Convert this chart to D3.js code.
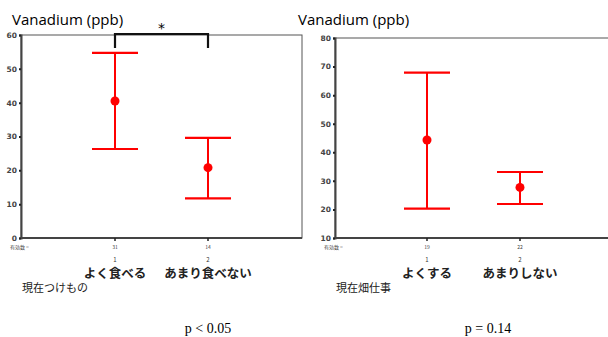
<!DOCTYPE html>
<html>
<head>
<meta charset="utf-8">
<title>Vanadium</title>
<script src="https://d3js.org/d3.v7.min.js"></script>
<style>
body { margin: 0; background: #fff; }
text { font-family: "Noto Sans CJK JP", "Noto Sans", sans-serif; }
</style>
</head>
<body>
<div id="chart"></div>
<script>
// left panel: pickled vegetables
var leftGroups = ["よく食べる", "あまり食べない"]
var leftCodes = ["1", "2"]
var leftN = ["31", "14"]
var leftMean = [40.5, 20.8]
var leftLow = [26.3, 11.7]
var leftHigh = [54.7, 29.6]
var leftTicks = [0, 10, 20, 30, 40, 50, 60]

// right panel: field work
var rightGroups = ["よくする", "あまりしない"]
var rightCodes = ["1", "2"]
var rightN = ["19", "22"]
var rightMean = [44.3, 27.7]
var rightLow = [20.3, 21.9]
var rightHigh = [67.9, 33.1]
var rightTicks = [10, 20, 30, 40, 50, 60, 70, 80]

var svg = d3.select("#chart").append("svg")
  .attr("width", 608)
  .attr("height", 337)

function panel(opt) {
  var g = svg.append("g")
  var y = d3.scaleLinear().domain(opt.domain).range([238, opt.top])
  var x = d3.scalePoint().domain(opt.codes).range([opt.x1, opt.x2])

  // title
  g.append("text")
    .attr("x", opt.titleX).attr("y", 25)
    .style("font-family", "'Open Sans', sans-serif")
    .style("font-size", "15px")
    .text("Vanadium (ppb)")

  // frame
  g.append("rect")
    .attr("x", opt.left).attr("y", opt.top)
    .attr("width", opt.right - opt.left).attr("height", 238 - opt.top)
    .attr("fill", "none").attr("stroke", "#555").attr("stroke-width", 1)

  var ax = g.append("g").attr("transform", "translate(" + opt.left + ",0)")
    .call(d3.axisLeft(y).tickValues(opt.ticks).tickSize(2).tickPadding(2))
  ax.select(".domain").attr("stroke", "#444").attr("stroke-width", 2)
  ax.selectAll("line").attr("stroke", "#222").attr("stroke-width", 2)
  ax.selectAll("text").style("font-size", "7.5px").style("font-weight", "bold")
    .style("font-family", "'DejaVu Sans', sans-serif").attr("fill", "#444")

  g.append("line")
    .attr("x1", opt.left).attr("x2", opt.right).attr("y1", 238).attr("y2", 238)
    .attr("stroke", "#444").attr("stroke-width", 2)

  // x ticks
  g.selectAll(".xt").data(opt.codes).enter().append("line")
    .attr("x1", function(d){ return x(d) }).attr("x2", function(d){ return x(d) })
    .attr("y1", 238).attr("y2", 241).attr("stroke", "#222").attr("stroke-width", 1.5)

  g.append("text").attr("x", opt.nX).attr("y", 249)
    .style("font-size", "5px").attr("fill", "#444").text("有効数 =")
  g.selectAll(".n").data(opt.n).enter().append("text")
    .attr("x", function(d, i){ return x(opt.codes[i]) }).attr("y", 249)
    .attr("text-anchor", "middle").style("font-size", "5px").attr("fill", "#444")
    .text(function(d){ return d })
  g.selectAll(".code").data(opt.codes).enter().append("text")
    .attr("x", function(d){ return x(d) }).attr("y", 262)
    .attr("text-anchor", "middle").style("font-size", "6px").attr("fill", "#333")
    .text(function(d){ return d })
  g.selectAll(".grp").data(opt.groups).enter().append("text")
    .attr("x", function(d, i){ return x(opt.codes[i]) }).attr("y", 278)
    .attr("text-anchor", "middle").style("font-size", "12.5px").style("font-weight", "bold")
    .attr("fill", "#222")
    .text(function(d){ return d })
  g.append("text").attr("x", opt.varX).attr("y", 292)
    .style("font-size", "11px").attr("fill", "#222").text(opt.varName)

  // error bars
  var bars = g.selectAll(".bar").data(opt.codes).enter().append("g")
  bars.append("line")
    .attr("x1", function(d){ return x(d) }).attr("x2", function(d){ return x(d) })
    .attr("y1", function(d, i){ return y(opt.low[i]) }).attr("y2", function(d, i){ return y(opt.high[i]) })
    .attr("stroke", "red").attr("stroke-width", 2)
  bars.append("line")
    .attr("x1", function(d){ return x(d) - 23 }).attr("x2", function(d){ return x(d) + 23 })
    .attr("y1", function(d, i){ return y(opt.low[i]) }).attr("y2", function(d, i){ return y(opt.low[i]) })
    .attr("stroke", "red").attr("stroke-width", 2.2)
  bars.append("line")
    .attr("x1", function(d){ return x(d) - 23 }).attr("x2", function(d){ return x(d) + 23 })
    .attr("y1", function(d, i){ return y(opt.high[i]) }).attr("y2", function(d, i){ return y(opt.high[i]) })
    .attr("stroke", "red").attr("stroke-width", 2.2)
  bars.append("circle")
    .attr("cx", function(d){ return x(d) }).attr("cy", function(d, i){ return y(opt.mean[i]) })
    .attr("r", 4.5).attr("fill", "red")

  g.append("text").attr("x", opt.pX).attr("y", 333)
    .attr("text-anchor", "middle")
    .style("font-family", "'Liberation Serif', serif").style("font-size", "14px")
    .text(opt.p)

  return {g: g, x: x, y: y}
}

var L = panel({
  domain: [0, 60], ticks: leftTicks, top: 35, left: 21, right: 302,
  x1: 115, x2: 208, codes: leftCodes, n: leftN, groups: leftGroups,
  mean: leftMean, low: leftLow, high: leftHigh,
  titleX: 12, nX: 10, varX: 22, varName: "現在つけもの", pX: 208, p: "p < 0.05"
})

var R = panel({
  domain: [10, 80], ticks: rightTicks, top: 38, left: 335, right: 609,
  x1: 427, x2: 520, codes: rightCodes, n: rightN, groups: rightGroups,
  mean: rightMean, low: rightLow, high: rightHigh,
  titleX: 298, nX: 324, varX: 336, varName: "現在畑仕事", pX: 488, p: "p = 0.14"
})

// significance bracket
var bx1 = L.x("1"), bx2 = L.x("2")
L.g.append("path")
  .attr("d", "M" + bx1 + ",48V34H" + bx2 + "V48")
  .attr("fill", "none").attr("stroke", "#111").attr("stroke-width", 2.2)
L.g.append("text").attr("x", (bx1 + bx2) / 2).attr("y", 33)
  .attr("text-anchor", "middle").style("font-size", "14px").style("font-family", "'DejaVu Sans', sans-serif")
  .text("*")
</script>
</body>
</html>
